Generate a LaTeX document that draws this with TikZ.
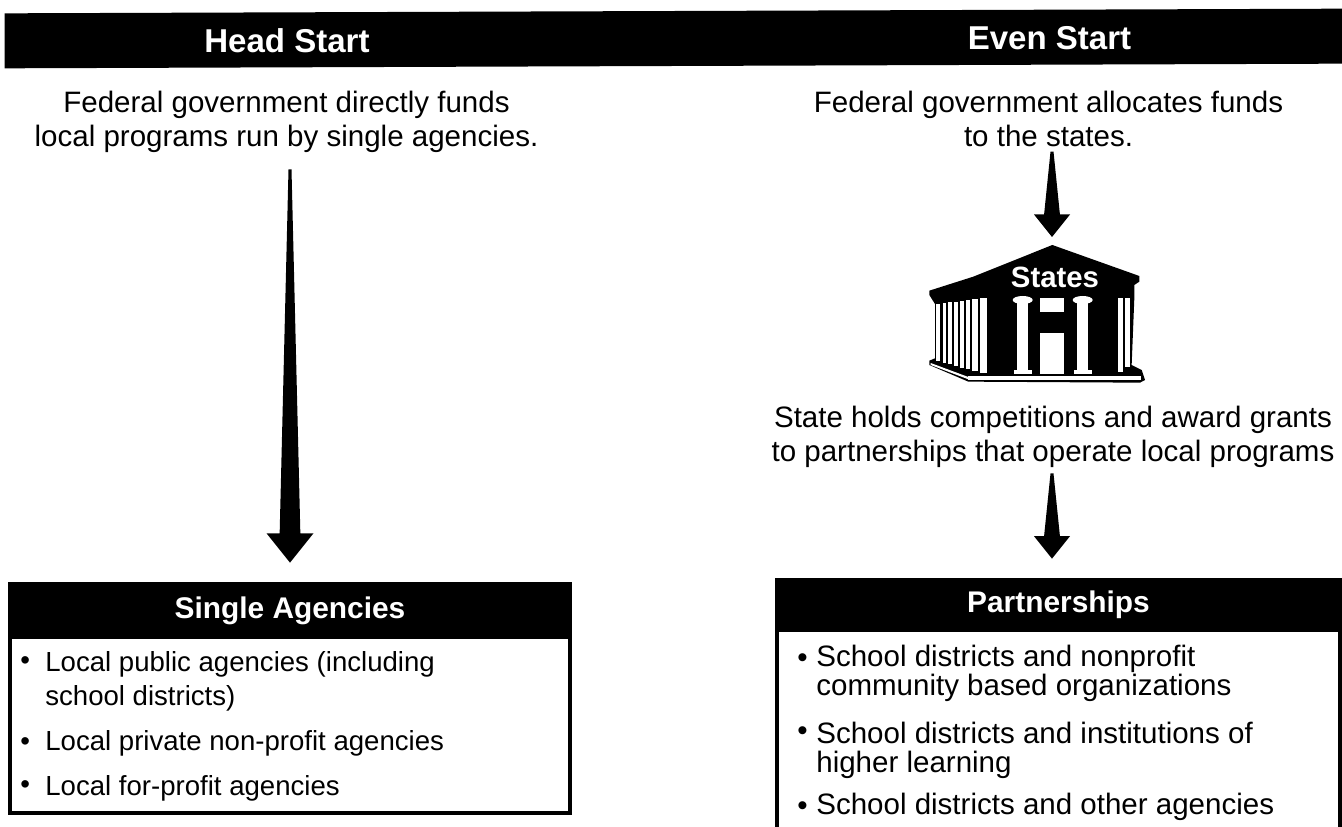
\documentclass[tikz,border=0pt]{standalone}
\usepackage{fontspec}
\setmainfont{Liberation Sans}
\usetikzlibrary{calc}
\tikzset{
    bartext/.style={text=white, font=\bfseries\fontsize{18.8}{22}\selectfont, inner sep=0pt},
    note/.style={anchor=base, align=center, font=\fontsize{16.8}{19.35}\selectfont, inner sep=0pt},
    entry/.style={anchor=base west, align=left, font=\fontsize{15.7}{19.35}\selectfont, inner sep=0pt},
    partentry/.style={anchor=base west, align=left, font=\fontsize{16.8}{16.5}\selectfont, inner sep=0pt},
    frame/.style={draw=black, line width=2.28pt, fill=white, inner sep=0pt},
    boxhead/.style={fill=black, text=white, font=\bfseries\fontsize{17}{20}\selectfont, inner sep=0pt},
    % tapered arrow: gap at start, gap at tip, half width of the head
    taper/.style n args={3}{fill=black, to path={
        ($(\tikztostart)+(-1.5,#1)$) -- ($(\tikztotarget)+(-0.44*#3,-#2-1.25*#3)$) -- ($(\tikztotarget)+(-#3,-#2-1.25*#3)$)
        -- ($(\tikztotarget)+(0,-#2)$)
        -- ($(\tikztotarget)+(#3,-#2-1.25*#3)$) -- ($(\tikztotarget)+(0.44*#3,-#2-1.25*#3)$) -- ($(\tikztostart)+(1.5,#1)$) -- cycle}}
}
\begin{document}
\begin{tikzpicture}[x=0.02cm, y=-0.02cm]
    \useasboundingbox (0,0) rectangle (1342,827);

    % top band
    \node[fill=black, rotate=0.2, minimum width=26.8cm, minimum height=1.1cm, inner sep=0pt] (band) at (674.5,38.5) {};
    \node[bartext] (headstart) at (287,41) {Head Start};
    \node[bartext] (evenstart) at (1049.5,38) {Even Start};

    \node[note] (headnote) at (286.5,147) {Federal government directly funds\\local programs run by single agencies.};
    \node[note] (evennote) at (1048.5,147) {Federal government allocates funds\\to the states.};
    \node[note] (statenote) at (1053,461) {State holds competitions and award grants\\to partnerships that operate local programs};

    % single agencies
    \node[frame, minimum width=11.2cm, minimum height=4.58cm] (singlebox) at (290,698.5) {};
    \node[boxhead, minimum width=11.28cm, minimum height=1.14cm] (singlehead) at (290,610.5) {Single Agencies};
    \node[entry] (sa1) at (20,669) {•};
    \node[entry] (sa2) at (20,750) {•};
    \node[entry] (sa3) at (20,793) {•};
    \node[entry] (sb1) at (45,705) {Local public agencies (including\\school districts)};
    \node[entry] (sb2) at (45,750) {Local private non-profit agencies};
    \node[entry] (sb3) at (45,795) {Local for-profit agencies};

    % partnerships
    \node[frame, minimum width=11.26cm, minimum height=4.98cm] (partbox) at (1058.5,704.5) {};
    \node[boxhead, minimum width=11.34cm, minimum height=1.08cm] (parthead) at (1058.5,605) {Partnerships};
    \node[partentry] (pa1) at (797,667) {•};
    \node[partentry] (pa2) at (797,740) {•};
    \node[partentry] (pa3) at (797,815) {•};
    \node[partentry] (pb1) at (816,695) {School districts and nonprofit\\community based organizations};
    \node[partentry] (pb2) at (816,772) {School districts and institutions of\\higher learning};
    \node[partentry] (pb3) at (816,814) {School districts and other agencies};

    % temple
    \begin{scope}[shift={(900,230)}, x=0.00667cm, y=-0.00667cm]
        \fill (457,45) -- (718,138) -- (718,155) -- (703,165) -- (703,205) -- (695,405) -- (725,420)
            -- (735,450) -- (720,458) -- (205,455) -- (88,405) -- (88,392) -- (105,385) -- (105,222)
            -- (88,195) -- (88,182) -- (220,140) -- cycle;
        \foreach \cx/\cw/\ct/\cb in {108/13/222/392, 128/10/219/398, 145/11/217/403, 162/11/215/408, 179/12/213/413, 197/13/210/418, 217/16/207/423, 240/20/204/428}
            \fill[white] (\cx,\ct) rectangle ++(\cw,\cb-\ct);
        \foreach \cx in {352, 532} {
            \fill[white] (\cx,210) rectangle ++(32,215);
            \fill[white] (\cx+16,210) ellipse (30 and 12);
            \fill[white] (\cx-10,420) rectangle ++(54,13);
        }
        \fill[white] (421,205) rectangle (492,245);
        \fill[white] (421,310) rectangle (492,432);
        \fill[white] (653,203) rectangle (670,425);
        \fill[white] (675,203) rectangle (690,412);
        \fill[white] (205,437) rectangle (722,450);
        \fill[white] (92,399) -- (205,441) -- (205,448) -- (92,405) -- cycle;
    \end{scope}
    \node[text=white, font=\bfseries\fontsize{16.7}{20}\selectfont, inner sep=0pt] (states) at (1055,277) {States};
    \coordinate (temple) at (1052,245);

    % arrows
    \fill[taper={16}{19}{23.5}] (singlehead.north |- headnote.south) to (singlehead.north);
    \fill[taper={4}{8}{18}] (temple |- evennote.south) to (temple);
    \fill[taper={6}{19}{18}] (temple |- statenote.south) to (parthead.north -| temple);
\end{tikzpicture}
\end{document}
